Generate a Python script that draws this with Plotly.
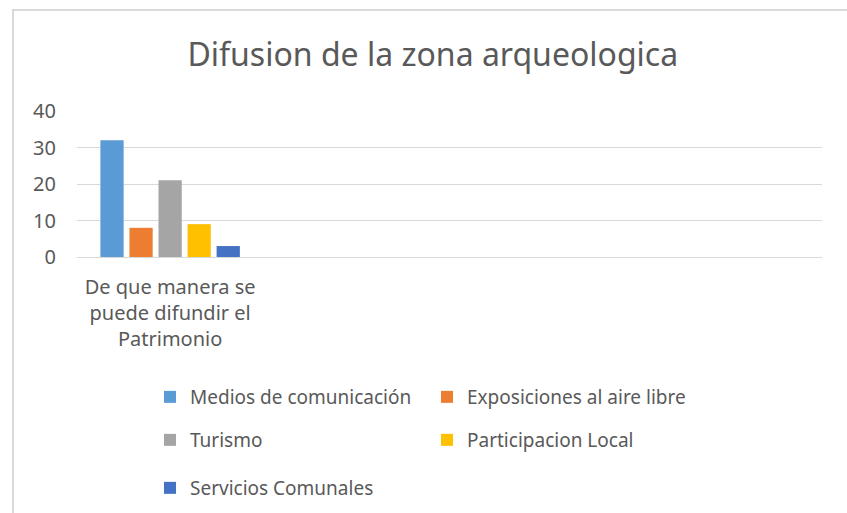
import plotly.graph_objects as go

categories = ["De que manera se<br>puede difundir el<br>Patrimonio"]
series_names = [
    "Medios de comunicación",
    "Exposiciones al aire libre",
    "Turismo",
    "Participacion Local",
    "Servicios Comunales",
]
series_values = [[32], [8], [21], [9], [3]]
colors = ["#5B9BD5", "#ED7D31", "#A5A5A5", "#FFC000", "#4472C4"]
legend_rows = ["legend", "legend", "legend2", "legend2", "legend3"]

TXT = "#595959"
FONT = "Noto Sans, Open Sans, sans-serif"

fig = go.Figure()
for name, vals, col, lg in zip(series_names, series_values, colors, legend_rows):
    fig.add_trace(go.Bar(x=list(range(len(vals))), y=vals, name=name,
                         marker=dict(color=col, line_width=0), legend=lg))

W, H = 847, 513
L, R, T, B = 77, 822, 111, 257
pw, ph = R - L, B - T


def px_x(x):
    return (x - L) / pw


def px_y(y):
    return (B - y) / ph


leg_common = dict(orientation="h", entrywidth=232, entrywidthmode="pixels",
                  font=dict(size=19, color=TXT, family=FONT),
                  xref="container", yref="container",
                  xanchor="left", yanchor="middle", bgcolor="rgba(0,0,0,0)",
                  itemclick=False)

fig.update_layout(
    width=W, height=H,
    margin=dict(l=L, r=W - R, t=T, b=H - B),
    paper_bgcolor="white", plot_bgcolor="white",
    font=dict(family=FONT, color=TXT),
    title=dict(text="Difusion de la zona arqueologica", x=0.511, xanchor="center",
               y=1 - 55 / H, yanchor="middle",
               font=dict(size=32, color=TXT, family=FONT)),
    barmode="group", bargap=0.22, bargroupgap=0.2,
    xaxis=dict(range=[-0.5, 3.5], tickvals=[0], ticktext=categories,
               showgrid=False, zeroline=False, showline=False, ticks="",
               ticklabelstandoff=16,
               tickfont=dict(size=20, color=TXT), fixedrange=True),
    yaxis=dict(range=[0, 40], dtick=10, showgrid=True, gridcolor="#D9D9D9",
               gridwidth=1, zeroline=True, zerolinecolor="#D9D9D9", zerolinewidth=1,
               ticks="", ticklen=0, ticklabelstandoff=20,
               tickfont=dict(size=20, color=TXT), fixedrange=True),
    legend=dict(x=150 / W, y=1 - 397 / H, **leg_common),
    legend2=dict(x=150 / W, y=1 - 440 / H, **leg_common),
    legend3=dict(x=150 / W, y=1 - 488 / H, **leg_common),
    shapes=[dict(type="rect", xref="paper", yref="paper",
                 x0=px_x(13), x1=px_x(900), y0=px_y(600), y1=px_y(10),
                 line=dict(color="#D9D9D9", width=2), fillcolor="rgba(0,0,0,0)",
                 layer="below")],
)

fig.write_html("out.html", config={"displayModeBar": False},
               post_script="document.body.style.margin='0';")
